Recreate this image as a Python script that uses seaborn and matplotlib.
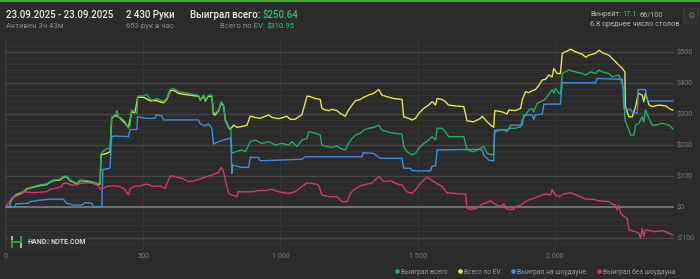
import matplotlib
matplotlib.use("Agg")
import matplotlib.pyplot as plt
from matplotlib.lines import Line2D
from matplotlib.patches import Rectangle, FancyBboxPatch
from matplotlib.ticker import MultipleLocator
import seaborn as sns

# ---------------- data ----------------
series_names = ["Выиграл всего", "Всего по EV", "Выиграл на шоудауне", "Выиграл без шоудауна"]

won_hands = [0, 15, 17, 27, 39, 63, 75, 100, 124, 148,
             160, 173, 197, 209, 221, 233, 246, 258, 270, 294,
             312, 331, 343, 346, 367, 379, 385, 398, 404, 410,
             422, 434, 446, 452, 458, 470, 477, 480, 501, 513,
             525, 537, 549, 562, 574, 586, 598, 610, 628, 653,
             677, 701, 708, 720, 726, 738, 750, 756, 762, 775,
             784, 793, 799, 811, 819, 823, 835, 860, 872, 890,
             908, 932, 957, 981, 1005, 1030, 1042, 1060, 1078, 1097,
             1103, 1127, 1145, 1151, 1170, 1188, 1206, 1218, 1236, 1248,
             1261, 1273, 1291, 1303, 1321, 1340, 1358, 1370, 1388, 1413,
             1443, 1449, 1461, 1480, 1492, 1504, 1522, 1540, 1553, 1565,
             1571, 1589, 1601, 1613, 1668, 1680, 1704, 1729, 1741, 1753,
             1771, 1777, 1781, 1808, 1826, 1832, 1856, 1875, 1881, 1905,
             1917, 1923, 1935, 1948, 1960, 1972, 1990, 1996, 2002, 2014,
             2020, 2027, 2051, 2075, 2100, 2112, 2130, 2148, 2161, 2173,
             2197, 2209, 2233, 2240, 2246, 2252, 2255, 2270, 2276, 2288,
             2294, 2306, 2318, 2324, 2330, 2343, 2355, 2367, 2391, 2416,
             2430]
won_vals = [0, 0, 21, 32, 41, 48, 59, 65, 70, 73,
            81, 86, 88, 97, 99, 86, 81, 75, 86, 84,
            81, 75, 75, 172, 188, 188, 290, 290, 310, 290,
            285, 274, 253, 263, 312, 306, 301, 357, 357, 363,
            346, 344, 349, 344, 339, 349, 378, 382, 371, 368,
            363, 360, 346, 360, 344, 360, 360, 306, 301, 312,
            339, 328, 285, 258, 253, 172, 177, 183, 177, 210,
            215, 204, 210, 199, 204, 199, 210, 194, 215, 220,
            242, 237, 231, 199, 194, 191, 196, 188, 183, 204,
            220, 231, 237, 247, 253, 256, 263, 247, 242, 237,
            234, 194, 177, 167, 172, 188, 204, 215, 226, 215,
            253, 253, 242, 226, 226, 183, 177, 188, 194, 172,
            167, 172, 242, 249, 242, 253, 253, 258, 280, 312,
            317, 306, 333, 339, 344, 355, 378, 366, 382, 366,
            364, 430, 441, 435, 430, 425, 435, 430, 441, 435,
            430, 419, 425, 409, 392, 382, 280, 247, 231, 231,
            263, 269, 290, 274, 312, 285, 263, 263, 269, 263,
            251]

ev_hands = [0, 15, 17, 27, 39, 63, 75, 100, 124, 148,
            160, 173, 197, 209, 221, 233, 246, 258, 270, 294,
            312, 331, 343, 346, 367, 379, 385, 398, 410, 422,
            434, 446, 458, 470, 480, 501, 525, 549, 574, 586,
            598, 610, 628, 653, 677, 701, 708, 720, 726, 738,
            750, 756, 762, 775, 784, 793, 799, 811, 817, 829,
            842, 866, 878, 890, 908, 926, 945, 957, 969, 993,
            1011, 1023, 1036, 1054, 1066, 1078, 1097, 1109, 1127, 1145,
            1151, 1163, 1176, 1188, 1206, 1218, 1236, 1248, 1261, 1273,
            1291, 1303, 1321, 1340, 1358, 1370, 1388, 1413, 1443, 1449,
            1467, 1480, 1492, 1504, 1522, 1540, 1553, 1565, 1571, 1589,
            1601, 1613, 1637, 1668, 1680, 1704, 1729, 1735, 1753, 1771,
            1777, 1781, 1808, 1826, 1832, 1856, 1875, 1881, 1893, 1905,
            1917, 1929, 1942, 1954, 1966, 1978, 1990, 1996, 2008, 2020,
            2027, 2039, 2057, 2075, 2100, 2112, 2124, 2148, 2161, 2173,
            2197, 2209, 2221, 2233, 2246, 2255, 2257, 2270, 2282, 2294,
            2304, 2318, 2324, 2330, 2343, 2355, 2379, 2404, 2416, 2430]
ev_vals = [0, 0, 19, 30, 39, 46, 57, 63, 68, 71,
           79, 84, 86, 95, 97, 84, 79, 73, 84, 82,
           79, 73, 73, 167, 172, 177, 285, 296, 290, 280,
           269, 256, 306, 303, 353, 353, 342, 342, 335, 346,
           374, 376, 366, 362, 359, 357, 344, 357, 341, 357,
           355, 299, 296, 310, 335, 325, 280, 256, 249, 263,
           256, 260, 263, 292, 288, 285, 292, 296, 288, 284,
           288, 292, 282, 282, 290, 296, 357, 355, 349, 346,
           317, 312, 310, 314, 310, 301, 292, 312, 328, 342,
           346, 353, 360, 366, 378, 360, 355, 349, 346, 290,
           285, 280, 285, 301, 317, 328, 339, 328, 349, 346,
           339, 328, 325, 323, 277, 274, 285, 292, 274, 260,
           256, 310, 306, 299, 312, 310, 317, 344, 371, 368,
           374, 378, 392, 409, 411, 425, 419, 446, 430, 430,
           495, 500, 508, 500, 492, 482, 489, 495, 505, 497,
           489, 478, 468, 457, 446, 435, 323, 290, 290, 323,
           366, 360, 339, 366, 328, 323, 328, 325, 317, 311]

sd_hands = [0, 33, 36, 81, 88, 112, 124, 160, 209, 221,
            246, 276, 288, 312, 319, 349, 353, 379, 385, 398,
            446, 452, 477, 479, 513, 543, 547, 568, 574, 701,
            708, 726, 738, 750, 756, 775, 793, 811, 819, 823,
            826, 860, 884, 890, 920, 926, 1078, 1090, 1297, 1301,
            1340, 1346, 1364, 1443, 1449, 1473, 1480, 1546, 1553, 1565,
            1571, 1717, 1735, 1741, 1759, 1777, 1780, 1832, 1838, 1881,
            1887, 1917, 1923, 1929, 1954, 1960, 2020, 2027, 2148, 2154,
            2246, 2252, 2276, 2282, 2300, 2304, 2330, 2336, 2343, 2430]
sd_vals = [0, 0, 9, 11, 16, 19, 21, 24, 24, 11,
           5, 5, 13, 11, 0, 0, 120, 124, 226, 228,
           226, 249, 249, 290, 285, 285, 296, 293, 280, 280,
           267, 261, 267, 253, 202, 210, 215, 220, 220, 107,
           134, 127, 127, 159, 159, 148, 153, 161, 161, 174,
           172, 167, 156, 156, 124, 124, 116, 115, 131, 131,
           183, 185, 183, 167, 150, 148, 247, 249, 263, 263,
           296, 296, 282, 296, 299, 331, 331, 400, 400, 414,
           411, 314, 314, 303, 303, 378, 378, 346, 341, 341]

nsd_hands = [0, 21, 39, 57, 63, 100, 148, 160, 185, 203,
             209, 227, 233, 258, 270, 294, 319, 337, 346, 367,
             391, 416, 434, 446, 452, 464, 489, 513, 537, 562,
             580, 592, 598, 604, 616, 641, 665, 689, 714, 732,
             750, 775, 784, 793, 799, 811, 823, 841, 847, 896,
             920, 945, 969, 993, 1030, 1054, 1078, 1097, 1115, 1139,
             1151, 1176, 1206, 1224, 1243, 1255, 1267, 1291, 1316, 1334,
             1358, 1376, 1401, 1425, 1443, 1461, 1480, 1492, 1510, 1534,
             1546, 1565, 1589, 1607, 1656, 1674, 1680, 1692, 1717, 1735,
             1753, 1765, 1777, 1790, 1808, 1814, 1820, 1832, 1850, 1856,
             1875, 1893, 1905, 1923, 1942, 1966, 1984, 1990, 2002, 2014,
             2033, 2057, 2075, 2094, 2112, 2136, 2161, 2197, 2209, 2221,
             2227, 2233, 2240, 2252, 2264, 2270, 2294, 2306, 2312, 2318,
             2324, 2330, 2367, 2391, 2416, 2430]
nsd_vals = [0, 27, 34, 41, 48, 45, 48, 56, 60, 65,
            75, 75, 70, 70, 75, 77, 75, 67, 54, 65,
            67, 65, 54, 38, 56, 65, 67, 73, 65, 67,
            59, 86, 99, 99, 97, 91, 81, 84, 91, 97,
            102, 110, 127, 113, 86, 43, 38, 32, 48, 48,
            52, 52, 56, 48, 43, 48, 65, 77, 75, 70,
            38, 32, 32, 16, 16, 43, 54, 67, 73, 77,
            97, 81, 84, 73, 70, 48, 43, 54, 75, 95,
            88, 77, 65, 45, 41, 41, -5, -9, -5, 9,
            13, 19, 11, 3, 3, 8, -5, -9, -9, 0,
            5, 16, 22, 27, 34, 41, 38, 54, 38, 32,
            41, 45, 38, 32, 24, 24, 19, 16, 8, 5,
            -11, 5, -22, -32, -38, -75, -81, -86, -102, -70,
            -97, -75, -81, -77, -86, -91]

x_ticks = [0, 500, 1000, 1500, 2000]
x_tick_labels = ["0", "500", "1 000", "1 500", "2 000"]
y_ticks = [-100, 0, 100, 200, 300, 400, 500]
y_tick_labels = ["-$100", "$0", "$100", "$200", "$300", "$400", "$500"]

# ---------------- style ----------------
BG = "#2b2b2b"
C_WON = "#1fae62"
C_EV = "#e6e640"
C_SD = "#3a8fdc"
C_NSD = "#d9346c"
C_TXT = "#ececec"
C_GRAY = "#8c8c8c"
C_LGRAY = "#b4b4b4"
C_GREEN_TXT = "#35c070"

sns.set_theme(style="dark")
plt.rcParams["font.family"] = ["Roboto", "DejaVu Sans"]

W, H = 700, 279
fig = plt.figure(figsize=(W / 100, H / 100), dpi=100, facecolor=BG)
ax = fig.add_axes([5 / W, 1 - 250 / H, 669 / W, 210 / H])
ax.set_facecolor(BG)

# grid
ax.yaxis.set_minor_locator(MultipleLocator(20))
ax.grid(which="minor", axis="y", color="#333333", lw=0.7)
ax.grid(which="major", axis="y", color="#464646", lw=1.0)
ax.grid(which="major", axis="x", color="#353535", lw=0.8)
ax.axhline(0, color="#767676", lw=1.3, zorder=1.5)
for s in ax.spines.values():
    s.set_visible(False)
ax.axvline(-3.5, color="#3a3a3a", lw=0.8, zorder=1)

series = [
    (ev_hands, ev_vals, C_EV, series_names[1]),
    (won_hands, won_vals, C_WON, series_names[0]),
    (sd_hands, sd_vals, C_SD, series_names[2]),
    (nsd_hands, nsd_vals, C_NSD, series_names[3]),
]
for xs, ys, col, name in series:
    sns.lineplot(x=xs, y=ys, ax=ax, color=col, lw=1.0, sort=False,
                 estimator=None, legend=False, zorder=3)

ax.set_xlim(-3.6, 2434)
ax.set_ylim(-140, 538)
ax.set_xticks(x_ticks)
ax.set_xticklabels(x_tick_labels)
ax.set_yticks(y_ticks)
ax.set_yticklabels(y_tick_labels)
ax.yaxis.tick_right()
ax.tick_params(axis="both", which="both", length=0, labelsize=5.2, colors="#7a7a7a")
ax.tick_params(axis="y", pad=2.2)
ax.tick_params(axis="x", pad=2.5)
ax.set_xlabel("")
ax.set_ylabel("")

# top stripe
fig.patches.append(Rectangle((0, 1 - 2 / H), 1, 2 / H, transform=fig.transFigure,
                             facecolor="#3da83a", edgecolor="none", zorder=5))

renderer = fig.canvas.get_renderer()


def place(parts, x_px, y_px, size, ha="left", weight="normal", gap=0.0):
    seq = parts if ha == "left" else parts[::-1]
    x = x_px
    for s, c in seq:
        t = fig.text(x / W, 1 - y_px / H, s, color=c, fontsize=size,
                     ha=ha, va="center", weight=weight, zorder=6)
        bb = t.get_window_extent(renderer=renderer)
        x = (bb.x1 + gap) if ha == "left" else (bb.x0 - gap)


# header
place([("23.09.2025 - 23.09.2025", C_TXT)], 6, 15, 7.0, weight="medium")
place([("Активен 3ч 43м", C_GRAY)], 6, 26, 5.6)
place([("2 430 Руки", C_TXT)], 126, 15, 7.0, weight="medium")
place([("653 рук в час", C_GRAY)], 126, 26, 5.6)
place([("Выиграл всего:", C_TXT), ("$250.64", C_GREEN_TXT)], 190, 15, 7.0,
      weight="medium", gap=2.5)
place([("Всего по EV:", C_GRAY), ("$310.95", C_GREEN_TXT)], 295, 26, 5.6,
      ha="right", gap=2.0)
place([("Винрейт:", C_LGRAY), ("17.1", C_GREEN_TXT), ("66/100", C_LGRAY)], 590, 15, 5.3, gap=2.0)
place([("6.8 среднее число столов", C_LGRAY)], 590, 25, 5.3)

# gear icon
fig.patches.append(FancyBboxPatch((684 / W, 1 - 23 / H), 14 / W, 15 / H,
                                  boxstyle="round,pad=0,rounding_size=0.004",
                                  transform=fig.transFigure, facecolor="#2f2f2f",
                                  edgecolor="#444444", lw=0.6, zorder=5))
fig.text(691 / W, 1 - 15.5 / H, "\u2699", color="#777777", fontsize=6,
         ha="center", va="center", family=["DejaVu Sans"], zorder=6)

# logo
fig.patches.append(Rectangle((8 / W, 1 - 250 / H), 77 / W, 17 / H, transform=fig.transFigure,
                             facecolor="#2e2e2e", edgecolor="none", zorder=4))


def fl(x0, y0, x1, y1, c, lw=1.3):
    fig.lines.append(Line2D([x0 / W, x1 / W], [1 - y0 / H, 1 - y1 / H],
                            transform=fig.transFigure, color=c, lw=lw, zorder=6,
                            solid_capstyle="butt"))


fl(11.5, 235.5, 11.5, 240, "#bdbdbd")
fl(11.5, 240, 11.5, 247.5, "#2fa848")
fl(20.5, 235.5, 20.5, 243, "#2fa848")
fl(20.5, 243, 20.5, 247.5, "#bdbdbd")
fl(11.5, 241.5, 20.5, 241.5, "#2fa848")
place([("HAND", "#d4d4d4"), ("2", "#2fa848"), ("NOTE.COM", "#d4d4d4")], 27, 242, 5.0,
      weight="bold", gap=0.0)

# legend
handles = [Line2D([], [], marker="o", ls="", color=c, markersize=2.3)
           for c in [C_WON, C_EV, C_SD, C_NSD]]
leg = fig.legend(handles, series_names, ncol=4, frameon=False, fontsize=4.9,
                 labelcolor="#9a9a9a", loc="center right",
                 bbox_to_anchor=(675 / W, 1 - 272 / H), handletextpad=0.2,
                 columnspacing=1.4, handlelength=0.8, borderaxespad=0, borderpad=0)

fig.savefig("out.png", dpi=100, facecolor=BG)
